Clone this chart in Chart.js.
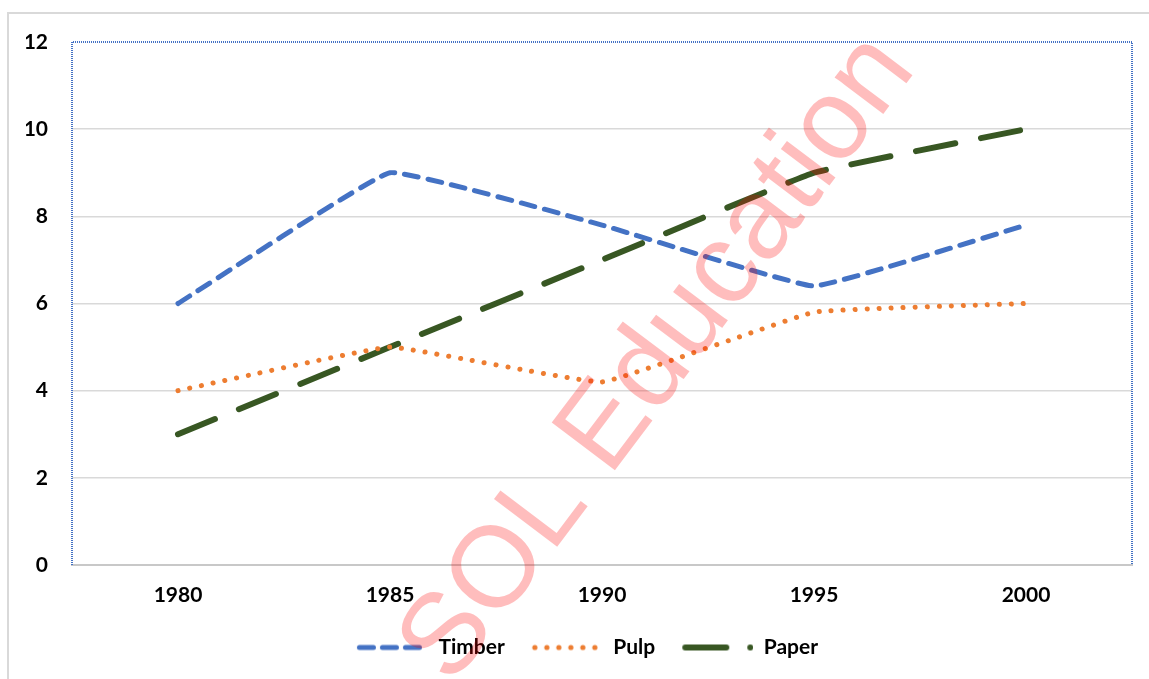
<!DOCTYPE html>
<html><head><meta charset="utf-8">
<script src="https://cdn.jsdelivr.net/npm/chart.js@4.4.1/dist/chart.umd.min.js"></script>
<style>html,body{margin:0;padding:0;background:#fff;overflow:hidden}#wrap{position:absolute;left:0;top:0;width:1149px;height:679px}</style>
</head><body><div id="wrap"><canvas id="c" width="1149" height="679"></canvas></div>
<script>
const years = ['1980', '1985', '1990', '1995', '2000'];
const timber = [6, 9, 7.8, 6.4, 7.8];
const pulp = [4, 5, 4.2, 5.8, 6];
const paper = [3, 5, 7, 9, 10];
const yMin = 0, yMax = 12, yStep = 2;
const seriesNames = ['Timber', 'Pulp', 'Paper'];
const watermark = 'SOL Education';

const BLUE = '#4472C4', ORANGE = '#ED7D31', GREEN = '#385723';
const FONT = 'Lato, "Open Sans", sans-serif';

function sample(kind) {
  const c = document.createElement('canvas');
  c.width = 88; c.height = 20;
  const g = c.getContext('2d');
  g.lineCap = 'round';
  const s = 17, cy = 10;
  if (kind === 'timber') {
    g.strokeStyle = BLUE; g.lineWidth = 5;
    [0, 23, 46].forEach(o => { g.beginPath(); g.moveTo(s + o + 2.5, cy); g.lineTo(s + o + 16.5, cy); g.stroke(); });
  } else if (kind === 'pulp') {
    g.fillStyle = ORANGE;
    for (let i = 0; i < 6; i++) { g.beginPath(); g.arc(s + 3 + i * 12, cy, 2.6, 0, Math.PI * 2); g.fill(); }
  } else {
    g.strokeStyle = GREEN; g.lineWidth = 6;
    g.beginPath(); g.moveTo(s + 3, cy); g.lineTo(s + 44, cy); g.stroke();
    g.fillStyle = GREEN; g.beginPath(); g.arc(s + 68, cy, 3, 0, Math.PI * 2); g.fill();
  }
  return c;
}

const frame = {
  id: 'frame',
  beforeDraw(chart) {
    const g = chart.ctx;
    g.save();
    g.strokeStyle = '#d9d9d9'; g.lineWidth = 2;
    g.beginPath(); g.moveTo(8, 679); g.lineTo(8, 13); g.lineTo(1149, 13); g.stroke();
    g.restore();
  },
  beforeDatasetsDraw(chart) {
    const a = chart.chartArea, g = chart.ctx;
    g.save();
    g.strokeStyle = BLUE; g.lineWidth = 2; g.setLineDash([1, 1]);
    g.beginPath(); g.moveTo(a.left, a.bottom); g.lineTo(a.left, a.top); g.lineTo(a.right, a.top); g.lineTo(a.right, a.bottom); g.stroke();
    g.restore();
  },
  afterDraw(chart) {
    const g = chart.ctx;
    g.save();
    g.translate(659, 359);
    g.rotate(-53 * Math.PI / 180);
    g.font = '115px "Liberation Sans", Arial, sans-serif';
    g.fillStyle = 'rgba(255,0,0,0.26)';
    g.textAlign = 'center'; g.textBaseline = 'middle';
    g.fillText(watermark, 0, 0);
    g.restore();
  }
};

function build() {
  const common = { fill: false, pointRadius: 0, pointHoverRadius: 0, tension: 0.08, borderCapStyle: 'round', borderJoinStyle: 'round' };
  new Chart(document.getElementById('c'), {
    type: 'line',
    data: {
      labels: years,
      datasets: [
        Object.assign({ label: seriesNames[0], data: timber, borderColor: BLUE, backgroundColor: BLUE, borderWidth: 5, borderDash: [14, 10], pointStyle: sample('timber') }, common),
        Object.assign({ label: seriesNames[1], data: pulp, borderColor: ORANGE, backgroundColor: ORANGE, borderWidth: 5, borderDash: [0.1, 11.9], pointStyle: sample('pulp') }, common),
        Object.assign({ label: seriesNames[2], data: paper, borderColor: GREEN, backgroundColor: GREEN, borderWidth: 6, borderDash: [40, 26], pointStyle: sample('paper') }, common)
      ]
    },
    options: {
      responsive: false,
      animation: false,
      devicePixelRatio: 1,
      layout: { padding: { left: 26, right: 17, top: 42, bottom: 11 } },
      plugins: {
        tooltip: { enabled: false },
        legend: {
          position: 'bottom',
          labels: { usePointStyle: true, pointStyleWidth: 88, boxHeight: 20, padding: 10, color: '#000', font: { family: FONT, size: 21, weight: 'bold' } }
        }
      },
      scales: {
        x: {
          offset: true,
          afterFit: s => { s.height = 62; },
          grid: { display: false, drawTicks: false },
          border: { display: true, color: '#c8c8c8', width: 2, dash: [2, 1] },
          ticks: { padding: 18, color: '#000', font: { family: FONT, size: 21, weight: 'bold' }, maxRotation: 0 }
        },
        y: {
          min: yMin, max: yMax,
          afterFit: s => { s.width = 46; },
          grid: { drawTicks: false, lineWidth: 1.5, color: c => (c.tick && (c.tick.value === yMin || c.tick.value === yMax)) ? 'rgba(0,0,0,0)' : '#d9d9d9' },
          border: { display: false },
          ticks: { stepSize: yStep, padding: 24, color: '#000', font: { family: FONT, size: 21, weight: 'bold' } }
        }
      }
    },
    plugins: [frame]
  });
}
(document.fonts ? Promise.all([document.fonts.load('bold 21px Lato'), document.fonts.load('115px "Liberation Sans"')]).catch(() => {}) : Promise.resolve()).then(build);
</script></body></html>
